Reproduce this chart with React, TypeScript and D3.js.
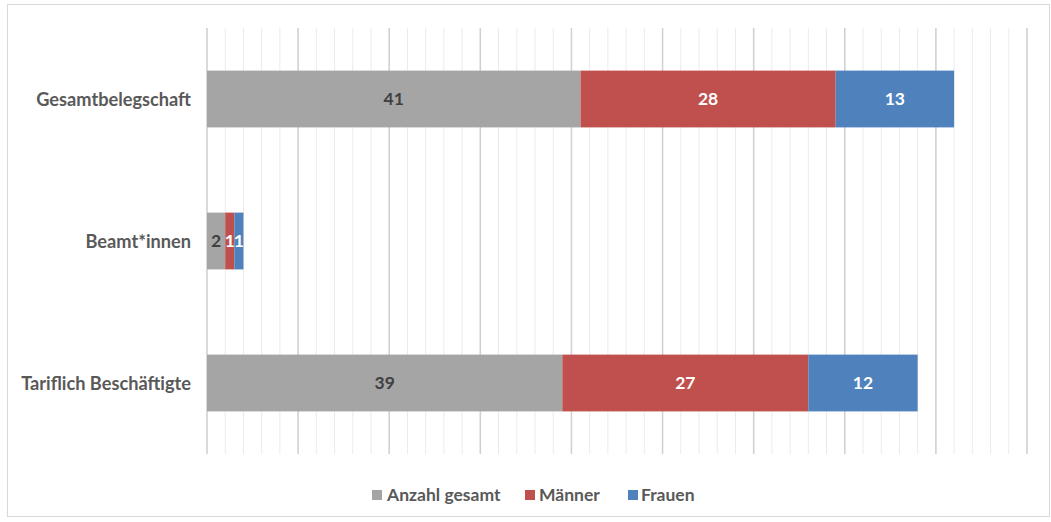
import React from "react";
import * as d3 from "d3";

const categories = ["Gesamtbelegschaft", "Beamt*innen", "Tariflich Beschäftigte"];
const seriesNames = ["Anzahl gesamt", "Männer", "Frauen"];
const anzahlGesamt = [41, 2, 39];
const maenner = [28, 1, 27];
const frauen = [13, 1, 12];
const seriesColors = ["#A5A5A5", "#C0504D", "#4F81BD"];
const labelColors = ["#404040", "#FFFFFF", "#FFFFFF"];

const W = 1051;
const H = 522;
const FONT = "Lato, 'Open Sans', sans-serif";

export default function App() {
  const x = d3.scaleLinear().domain([0, 90]).range([207, 1027]);
  const y = d3.scaleBand().domain(categories).range([28, 454]).paddingInner(0.6).paddingOuter(0.3);
  const series = [anzahlGesamt, maenner, frauen];
  const rows = categories.map((c, i) => ({ cat: c, v0: series[0][i], v1: series[1][i], v2: series[2][i] }));
  const stack = d3.stack<any>().keys(["v0", "v1", "v2"])(rows);
  const minorTicks = d3.range(0, 91, 2);
  const majorTicks = d3.range(0, 91, 10);

  const legendItems = [
    { sx: 372, tx: 387 },
    { sx: 525, tx: 539 },
    { sx: 628, tx: 641 },
  ];

  return (
    <svg width={W} height={H} style={{ position: "absolute", left: 0, top: 0 }}>
      <rect x={0} y={0} width={W} height={H} fill="#fff" />
      <rect x={7.5} y={4.5} width={1042} height={512} fill="#fff" stroke="#D9D9D9" strokeWidth={1} />
      {minorTicks.map((t) => (
        <line key={"m" + t} x1={x(t)} x2={x(t)} y1={28} y2={454} stroke="#EBEBEB" strokeWidth={1} />
      ))}
      {majorTicks.map((t) => (
        <line key={"M" + t} x1={x(t)} x2={x(t)} y1={28} y2={454} stroke="#D0D0D0" strokeWidth={1.5} />
      ))}
      {stack.map((layer, si) =>
        layer.map((d, ci) => {
          const x0 = x(d[0]);
          const x1 = x(d[1]);
          const yy = y(categories[ci])!;
          const bh = y.bandwidth();
          return (
            <g key={si + "-" + ci}>
              <rect x={x0} y={yy} width={x1 - x0} height={bh} fill={seriesColors[si]} />
              <text
                x={(x0 + x1) / 2}
                y={yy + bh / 2}
                dy="0.36em"
                textAnchor="middle"
                fontFamily={FONT}
                fontWeight={700}
                fontSize={17.5}
                fill={labelColors[si]}
              >
                {series[si][ci]}
              </text>
            </g>
          );
        })
      )}
      {categories.map((c) => (
        <text
          key={c}
          x={191}
          y={y(c)! + y.bandwidth() / 2}
          dy="0.36em"
          textAnchor="end"
          fontFamily={FONT}
          fontWeight={700}
          fontSize={18.2}
          fill="#595959"
        >
          {c}
        </text>
      ))}
      {seriesNames.map((n, i) => (
        <g key={n}>
          <rect x={legendItems[i].sx} y={490} width={10} height={10} fill={seriesColors[i]} />
          <text
            x={legendItems[i].tx}
            y={495}
            dy="0.36em"
            fontFamily={FONT}
            fontWeight={700}
            fontSize={17.5}
            fill="#595959"
          >
            {n}
          </text>
        </g>
      ))}
    </svg>
  );
}
